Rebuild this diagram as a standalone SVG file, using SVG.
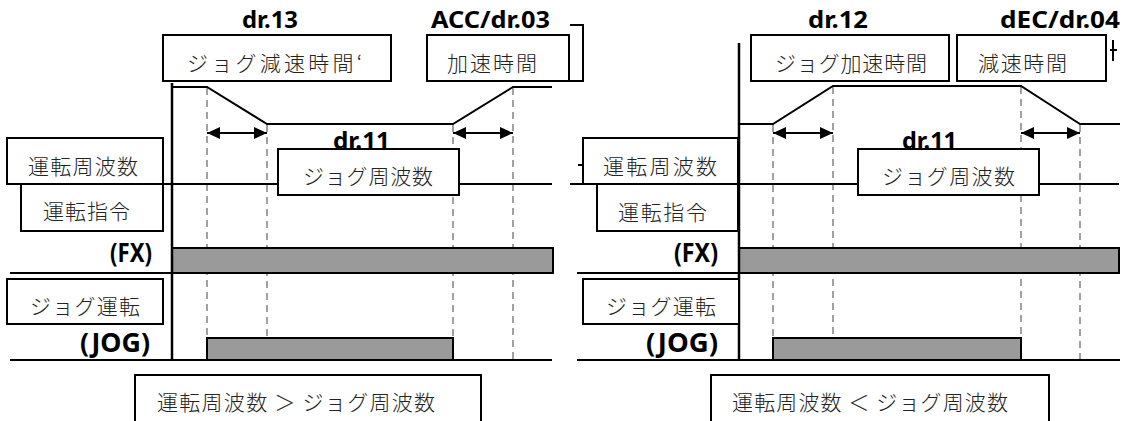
<svg xmlns="http://www.w3.org/2000/svg" width="1129" height="421" viewBox="0 0 1129 421">
<style>
.box{fill:#fff;stroke:#000;stroke-width:2}
.jp{font-family:"Noto Sans CJK JP","Noto Sans",sans-serif;font-weight:300;font-size:21px;fill:#222}
.lb{font-family:"Noto Sans","Open Sans",sans-serif;font-weight:bold;font-size:23px;fill:#000}
.big{font-size:27px}
.dash{stroke:#8a8a8a;stroke-width:1.6;stroke-dasharray:7 5;fill:none}
.ln{stroke:#000;stroke-width:2;fill:none}
.ax{stroke:#000;stroke-width:2.5;fill:none}
.bar{fill:#9a9a9a;stroke:#000;stroke-width:2}
.arr{stroke:#000;stroke-width:2;fill:none;marker-start:url(#ah);marker-end:url(#ah)}
</style>
<defs>
<marker id="ah" markerUnits="userSpaceOnUse" markerWidth="13" markerHeight="12" refX="13" refY="6" orient="auto-start-reverse">
<path d="M0,0 L13,6 L0,12 z" fill="#000"/>
</marker>
</defs>
<rect width="1129" height="421" fill="#fff"/>

<g id="connectors">
<line class="dash" x1="207" y1="88" x2="207" y2="360"/>
<line class="dash" x1="267" y1="125" x2="267" y2="360"/>
<line class="dash" x1="453" y1="125" x2="453" y2="360"/>
<line class="dash" x1="513" y1="88" x2="513" y2="360"/>
<line class="dash" x1="773" y1="125" x2="773" y2="360"/>
<line class="dash" x1="833" y1="87" x2="833" y2="360"/>
<line class="dash" x1="1021" y1="87" x2="1021" y2="360"/>
<line class="dash" x1="1080" y1="125" x2="1080" y2="360"/>

<polyline class="ln" points="172,87 207,87 267,124 453,124 513,87 552,87"/>
<polyline class="ln" points="739,124 773,124 833,86 1021,86 1080,124 1120,124"/>

<line class="arr" x1="207" y1="133" x2="267" y2="133"/>
<line class="arr" x1="453" y1="133" x2="513" y2="133"/>
<line class="arr" x1="773" y1="133" x2="833" y2="133"/>
<line class="arr" x1="1021" y1="133" x2="1080" y2="133"/>

<line class="ln" x1="163" y1="184" x2="552" y2="184"/>
<line class="ln" x1="570" y1="184" x2="1119" y2="184"/>
<line class="ln" x1="10" y1="273" x2="172" y2="273"/>
<line class="ln" x1="577" y1="273" x2="739" y2="273"/>
<line class="ln" x1="10" y1="360" x2="552" y2="360"/>
<line class="ln" x1="577" y1="360" x2="1120" y2="360"/>

<rect class="bar" x="172" y="248" width="381" height="25"/>
<rect class="bar" x="739" y="248" width="380" height="25"/>
<rect class="bar" x="207" y="338" width="246" height="22"/>
<rect class="bar" x="773" y="338" width="248" height="22"/>

<line class="ax" x1="172" y1="83" x2="172" y2="361"/>
<line class="ax" x1="739" y1="43" x2="739" y2="361"/>

<path class="ln" d="M570,25 H583 V81 H570"/>
<line class="ln" x1="578" y1="165" x2="583" y2="165"/>
<line class="ln" x1="1113" y1="40" x2="1113" y2="61"/>
<line class="ln" x1="1110" y1="50" x2="1117" y2="50"/>
</g>

<g id="label-dr13"><text class="lb" x="242" y="28" textLength="56" lengthAdjust="spacingAndGlyphs">dr.13</text></g>
<g id="label-acc"><text class="lb" x="431" y="28" textLength="119" lengthAdjust="spacingAndGlyphs">ACC/dr.03</text></g>
<g id="label-dr12"><text class="lb" x="808" y="28" textLength="60" lengthAdjust="spacingAndGlyphs">dr.12</text></g>
<g id="label-dec"><text class="lb" x="1000" y="28" textLength="120" lengthAdjust="spacingAndGlyphs">dEC/dr.04</text></g>
<g id="label-dr11-l"><text class="lb" x="333" y="149" textLength="57" lengthAdjust="spacingAndGlyphs">dr.11</text></g>
<g id="label-dr11-r"><text class="lb" x="902" y="149" textLength="55" lengthAdjust="spacingAndGlyphs">dr.11</text></g>

<g id="jog-dec-time">
<rect class="box" x="163" y="35" width="228" height="46"/>
<text class="jp" x="187" y="71" textLength="175">ジョグ減速時間‘</text>
</g>
<g id="acc-time">
<rect class="box" x="427" y="35" width="142" height="46"/>
<text class="jp" x="447" y="71" textLength="90">加速時間</text>
</g>
<g id="jog-acc-time">
<rect class="box" x="751" y="35" width="198" height="46"/>
<text class="jp" x="775" y="71" textLength="152">ジョグ加速時間</text>
</g>
<g id="dec-time">
<rect class="box" x="957" y="35" width="149" height="46"/>
<text class="jp" x="978" y="71" textLength="89">減速時間</text>
</g>

<g id="run-freq-l">
<rect class="box" x="7" y="138" width="156" height="46"/>
<text class="jp" x="28" y="174" textLength="110">運転周波数</text>
</g>
<g id="run-cmd-l">
<rect class="box" x="21" y="184" width="142" height="47"/>
<text class="jp" x="43" y="219" textLength="87">運転指令</text>
</g>
<g id="jog-freq-l">
<rect class="box" x="278" y="149" width="181" height="46"/>
<text class="jp" x="303" y="184" textLength="130">ジョグ周波数</text>
</g>
<g id="jog-run-l">
<rect class="box" x="7" y="279" width="156" height="45"/>
<text class="jp" x="30" y="314" textLength="110">ジョグ運転</text>
</g>
<g id="fx-l"><text class="lb big" x="110" y="262" textLength="42" lengthAdjust="spacingAndGlyphs">(FX)</text></g>
<g id="jog-l"><text class="lb big" x="80" y="352" textLength="70" lengthAdjust="spacingAndGlyphs">(JOG)</text></g>

<g id="run-freq-r">
<rect class="box" x="583" y="138" width="155" height="46"/>
<text class="jp" x="603" y="174" textLength="114">運転周波数</text>
</g>
<g id="run-cmd-r">
<rect class="box" x="597" y="184" width="141" height="47"/>
<text class="jp" x="618" y="220" textLength="89">運転指令</text>
</g>
<g id="jog-freq-r">
<rect class="box" x="858" y="149" width="181" height="46"/>
<text class="jp" x="882" y="184" textLength="133">ジョグ周波数</text>
</g>
<g id="jog-run-r">
<rect class="box" x="583" y="279" width="156" height="45"/>
<text class="jp" x="606" y="314" textLength="110">ジョグ運転</text>
</g>
<g id="fx-r"><text class="lb big" x="674" y="262" textLength="44" lengthAdjust="spacingAndGlyphs">(FX)</text></g>
<g id="jog-r"><text class="lb big" x="646" y="352" textLength="72" lengthAdjust="spacingAndGlyphs">(JOG)</text></g>

<g id="cond-l">
<rect class="box" x="135" y="375" width="346" height="52"/>
<text class="jp" x="157" y="410" textLength="278">運転周波数 ＞ ジョグ周波数</text>
</g>
<g id="cond-r">
<rect class="box" x="711" y="375" width="338" height="52"/>
<text class="jp" x="732" y="410" textLength="276">運転周波数 ＜ ジョグ周波数</text>
</g>
</svg>
